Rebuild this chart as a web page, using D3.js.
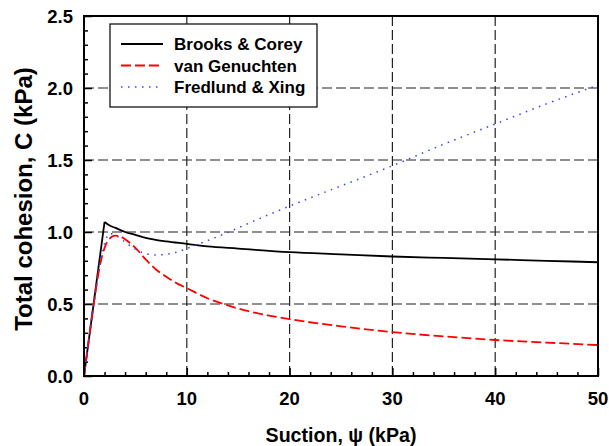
<!DOCTYPE html>
<html>
<head>
<meta charset="utf-8">
<script src="https://cdn.jsdelivr.net/npm/d3@7"></script>
<style>
  body { margin: 0; background: #fff; }
  text { font-family: "Liberation Sans", Arial, sans-serif; font-weight: bold; }
</style>
</head>
<body>
<svg id="chart" width="609" height="446"></svg>
<script>
// values
var bcPsi = [0, 2, 2.5, 3, 4, 5, 6, 8, 10, 12, 15, 20, 25, 30, 35, 40, 45, 50];
var bcC   = [0, 1.07, 1.045, 1.03, 1.0, 0.98, 0.96, 0.935, 0.918, 0.90, 0.885, 0.86, 0.845, 0.83, 0.82, 0.81, 0.80, 0.79];

var vgPsi = [0, 0.5, 1, 1.5, 2, 2.5, 3, 3.5, 4, 5, 6, 7, 8, 9, 10, 12, 14, 16, 18, 20, 25, 30, 35, 40, 45, 50];
var vgC   = [0, 0.27, 0.53, 0.75, 0.89, 0.955, 0.975, 0.97, 0.95, 0.89, 0.81, 0.74, 0.69, 0.645, 0.61, 0.54, 0.49, 0.45, 0.42, 0.395, 0.345, 0.305, 0.275, 0.25, 0.232, 0.215];

var fxPsi = [0, 0.5, 1, 1.5, 2, 2.5, 3, 4, 5, 6, 7, 8, 9, 10, 12, 14, 16, 20, 25, 30, 35, 40, 45, 50];
var fxC   = [0, 0.26, 0.52, 0.76, 0.92, 0.99, 0.98, 0.93, 0.88, 0.85, 0.84, 0.845, 0.86, 0.885, 0.94, 0.997, 1.06, 1.18, 1.32, 1.46, 1.61, 1.75, 1.89, 2.02];

var seriesNames = ["Brooks & Corey", "van Genuchten", "Fredlund & Xing"];
var xTicks = [0, 10, 20, 30, 40, 50];
var yTicks = [0, 0.5, 1.0, 1.5, 2.0, 2.5];

var svg = d3.select("#chart"),
    margin = {left: 84, top: 16, right: 11, bottom: 70},
    width = +svg.attr("width") - margin.left - margin.right,
    height = +svg.attr("height") - margin.top - margin.bottom;

var x = d3.scaleLinear().domain([0, 50]).range([0, width]);
var y = d3.scaleLinear().domain([0, 2.5]).range([height, 0]);

var g = svg.append("g").attr("transform", "translate(" + margin.left + "," + margin.top + ")");

// grid (dashed)
g.selectAll(".vgrid").data(xTicks.slice(1, -1)).enter().append("line")
    .attr("x1", d => x(d)).attr("x2", d => x(d))
    .attr("y1", 0).attr("y2", height)
    .attr("stroke", "#222").attr("stroke-width", 1.2).attr("stroke-dasharray", "10,4");
g.selectAll(".hgrid").data(yTicks.slice(1, -1)).enter().append("line")
    .attr("x1", 0).attr("x2", width)
    .attr("y1", d => y(d)).attr("y2", d => y(d))
    .attr("stroke", "#222").attr("stroke-width", 1.2).attr("stroke-dasharray", "10,4");

// axes, ticks inward
var xAxis = g.append("g").attr("transform", "translate(0," + height + ")")
    .call(d3.axisBottom(x).tickValues(d3.range(0, 51, 2)).tickSize(-4).tickFormat(""));
xAxis.selectAll(".tick line").filter(d => d % 10 === 0).attr("y2", -8);
var yAxis = g.append("g")
    .call(d3.axisLeft(y).tickValues(d3.range(0, 26).map(d => d / 10)).tickSize(-4).tickFormat(""));
yAxis.selectAll(".tick line").filter((d, i) => i % 5 === 0).attr("x2", 8);
g.selectAll(".domain").remove();
g.selectAll(".tick line").attr("stroke", "#000").attr("stroke-width", 1.5);

g.selectAll(".xlab").data(xTicks).enter().append("text")
    .attr("x", d => x(d)).attr("y", height + 29)
    .attr("text-anchor", "middle").attr("font-size", 18.5).text(d => d);
g.selectAll(".ylab").data(yTicks).enter().append("text")
    .attr("x", -11).attr("y", d => y(d) + 6.5)
    .attr("text-anchor", "end").attr("font-size", 18.5).text(d => d3.format(".1f")(d));

// series
var line = d3.line().x(d => x(d[0])).y(d => y(d[1])).curve(d3.curveMonotoneX);
var styles = [
  {stroke: "#000", width: 1.8, dash: null},
  {stroke: "#ff0000", width: 1.8, dash: "10,4"},
  {stroke: "#3344ff", width: 1.5, dash: "1.5,5.5"}
];
var bc = d3.zip(bcPsi, bcC);
var data = [bc.slice(0, 2), bc.slice(1), d3.zip(vgPsi, vgC), d3.zip(fxPsi, fxC)];
var dataStyle = [0, 0, 1, 2];
data.forEach(function (d, i) {
  var s = styles[dataStyle[i]];
  g.append("path").datum(d)
    .attr("fill", "none")
    .attr("stroke", s.stroke)
    .attr("stroke-width", s.width)
    .attr("stroke-dasharray", s.dash)
    .attr("d", i === 0 ? line.curve(d3.curveLinear)(d) : line.curve(d3.curveMonotoneX)(d));
});

// frame
g.append("rect").attr("width", width).attr("height", height)
    .attr("fill", "none").attr("stroke", "#000").attr("stroke-width", 2);

// legend
var lg = svg.append("g").attr("transform", "translate(110,24)");
lg.append("rect").attr("width", 207).attr("height", 83)
    .attr("fill", "#fff").attr("stroke", "#000").attr("stroke-width", 1.2);
seriesNames.forEach(function (name, i) {
  var yy = 20 + i * 21.5;
  lg.append("line").attr("x1", 11).attr("x2", 53).attr("y1", yy).attr("y2", yy)
    .attr("stroke", styles[i].stroke).attr("stroke-width", styles[i].width)
    .attr("stroke-dasharray", styles[i].dash);
  lg.append("text").attr("x", 64).attr("y", yy + 6).attr("font-size", 17).text(name);
});

// axis titles
svg.append("text")
    .attr("x", margin.left + width / 2).attr("y", 442)
    .attr("text-anchor", "middle").attr("font-size", 19.6)
    .text("Suction, \u03C8 (kPa)");
svg.append("text")
    .attr("transform", "translate(32,199) rotate(-90)")
    .attr("text-anchor", "middle").attr("font-size", 24)
    .text("Total cohesion, C (kPa)");
</script>
</body>
</html>
